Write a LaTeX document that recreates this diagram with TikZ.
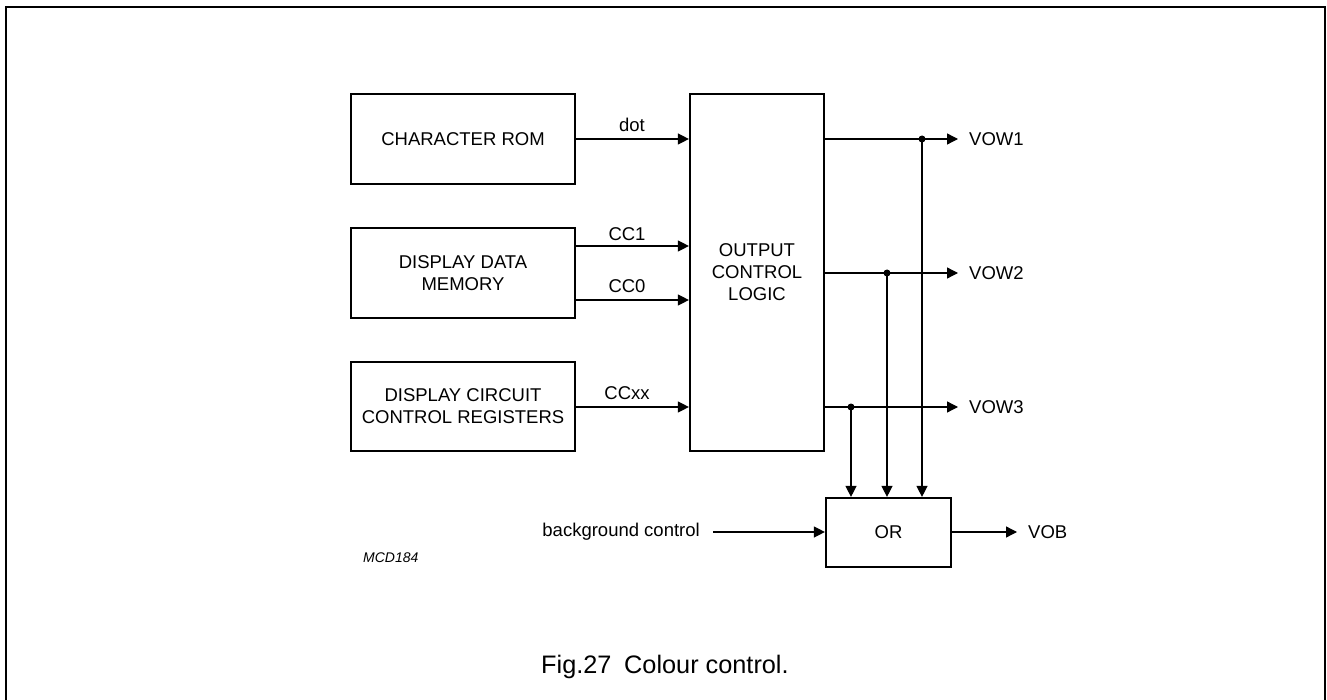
\documentclass[tikz,border=0pt]{standalone}
\usepackage{fontspec}
\setmainfont{Liberation Sans}
\usetikzlibrary{arrows.meta,calc}
\begin{document}
\begin{tikzpicture}[x=1pt,y=-1pt,
  blk/.style={draw,line width=2.2pt,align=center,inner sep=0pt,font=\fontsize{18.5}{22}\selectfont},
  conn/.style={line width=1.3pt},
  arr/.style={conn,-{Triangle[length=11pt,width=11pt]}},
  lbl/.style={font=\fontsize{18.5}{22}\selectfont,inner sep=0pt},
  jdot/.style={circle,fill,inner sep=0pt,minimum size=7pt}]
\useasboundingbox (0,0) rectangle (1327,700);
\draw[line width=2.2pt] (6,700) -- (6,7) -- (1325,7) -- (1325,700);
% blocks
\node[blk,minimum width=224pt,minimum height=90pt] (rom) at (463,139) {CHARACTER ROM};
\node[blk,minimum width=224pt,minimum height=90pt] (ddm) at (463,273) {DISPLAY DATA\\MEMORY};
\node[blk,minimum width=224pt,minimum height=89pt] (dcc) at (463,406.5) {DISPLAY CIRCUIT\\CONTROL REGISTERS};
\node[blk,minimum width=134pt,minimum height=357pt] (ocl) at (757,272.5) {OUTPUT\\CONTROL\\LOGIC};
\node[blk,minimum width=125pt,minimum height=69pt] (or) at (888.5,532.5) {OR};
% input rows
\coordinate (ycc1) at (0,246);
\coordinate (ycc0) at (0,300);
\coordinate (ydot) at (0,139);
\coordinate (yccx) at (0,407);
\draw[arr] (rom.east |- ydot) -- (ocl.west |- ydot);
\draw[arr] (ddm.east |- ycc1) -- (ocl.west |- ycc1);
\draw[arr] (ddm.east |- ycc0) -- (ocl.west |- ycc0);
\draw[arr] (dcc.east |- yccx) -- (ocl.west |- yccx);
\node[lbl] (ldot) at (632,125) {dot};
\node[lbl] (lcc1) at (627,234) {CC1};
\node[lbl] (lcc0) at (627,286) {CC0};
\node[lbl] (lccx) at (627,393) {CCxx};
% outputs
\coordinate (t1) at (958,139);
\coordinate (t2) at (958,273);
\coordinate (t3) at (958,407);
\draw[arr] (ocl.east |- t1) -- (t1);
\draw[arr] (ocl.east |- t2) -- (t2);
\draw[arr] (ocl.east |- t3) -- (t3);
\node[lbl,anchor=west] (vow1) at (969,139) {VOW1};
\node[lbl,anchor=west] (vow2) at (969,273) {VOW2};
\node[lbl,anchor=west] (vow3) at (969,407) {VOW3};
\node[jdot] (d1) at (922,139) {};
\node[jdot] (d2) at (887,273) {};
\node[jdot] (d3) at (851,407) {};
\draw[arr] (d1.center) -- (d1.center |- or.north);
\draw[arr] (d2.center) -- (d2.center |- or.north);
\draw[arr] (d3.center) -- (d3.center |- or.north);
% background control
\node[lbl,anchor=east] (bg) at (700,532) {background control};
\coordinate (bgs) at (713,532);
\draw[arr] (bgs) -- (or.west |- bgs);
\coordinate (vobt) at (1017,532);
\draw[arr] (or.east |- vobt) -- (vobt);
\node[lbl,anchor=west] (vob) at (1028,532) {VOB};
% misc text
\node[inner sep=0pt,anchor=west,font=\fontsize{14}{16}\selectfont\itshape] (mcd) at (363,558) {MCD184};
\node[inner sep=0pt,anchor=west,font=\fontsize{25.3}{28}\selectfont] (cap) at (541,667) {Fig.27\hspace{0.5em}Colour control.};
\end{tikzpicture}
\end{document}
